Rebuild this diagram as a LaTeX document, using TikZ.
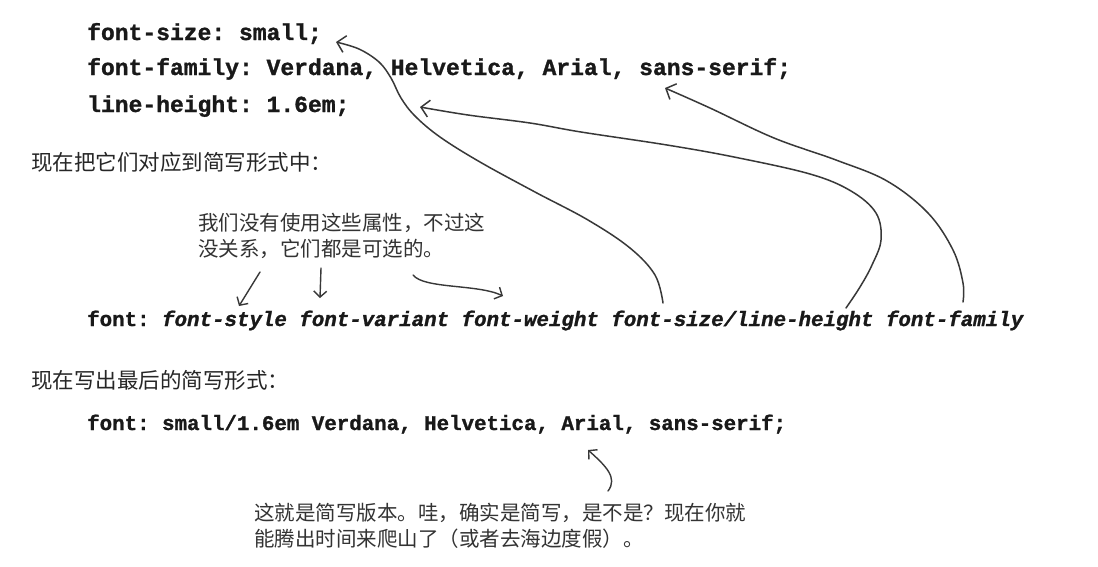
\documentclass[tikz,border=0pt]{standalone}
\usepackage{fontspec}
\setmainfont{Liberation Serif}
\newfontfamily\monof[BoldFeatures={FakeBold=1.2},BoldItalicFeatures={FakeBold=1.2}]{Liberation Mono}
\newfontfamily\cjkf{Noto Sans CJK SC}
\usetikzlibrary{arrows.meta}
\frenchspacing
\begin{document}
\begin{tikzpicture}[x=1pt,y=-1pt,
  code/.style={font=\monof\bfseries\fontsize{23}{27}\selectfont, anchor=base west, inner sep=0pt, text=black!90},
  codeb/.style={font=\monof\bfseries\fontsize{20.8}{25}\selectfont, anchor=base west, inner sep=0pt, text=black!90},
  headtxt/.style={font=\cjkf\fontsize{21.5}{26}\selectfont, anchor=base west, inner sep=0pt, text=black!85},
  handtxt/.style={font=\cjkf\fontsize{20.5}{26}\selectfont, anchor=base west, inner sep=0pt, text=black!80},
  bigarr/.style={draw=black!78, line width=1.5pt, line cap=round, line join=round, -{Straight Barb[length=8pt,width=17pt]}},
  smallarr/.style={draw=black!78, line width=1.4pt, line cap=round, line join=round, -{Straight Barb[length=6pt,width=13pt]}}]
\fill[white] (0,0) rectangle (1098,566);
\useasboundingbox (0,0) rectangle (1098,566);

% top declarations
\node[code] (l1) at (87,40) {font-size: small;};
\node[code] (l2) at (87,75) {font-family: Verdana, Helvetica, Arial, sans-serif;};
\node[code] (l3) at (87,112) {line-height: 1.6em;};

\node[headtxt] (h1) at (31,170) {现在把它们对应到简写形式中：};

\node[handtxt] (n1) at (198,230) {我们没有使用这些属性，不过这};
\node[handtxt] (n2) at (198,256) {没关系，它们都是可选的。};

\node[codeb] (sh) at (87,326) {font: {\itshape font-style font-variant font-weight font-size/line-height font-family}};

\node[headtxt] (h2) at (31,388) {现在写出最后的简写形式：};

\node[codeb] (fin) at (87,430) {font: small/1.6em Verdana, Helvetica, Arial, sans-serif;};

\node[handtxt] (n3) at (254,520) {这就是简写版本。哇，确实是简写，是不是？现在你就};
\node[handtxt] (n4) at (254,546) {能腾出时间来爬山了（或者去海边度假）。};

% big arrows
\coordinate (a1s) at (663,303);
\coordinate (a1e) at (336,42);
\draw[bigarr] plot[smooth, tension=0.6] coordinates {(a1s) (655,275) (630,248) (588,220) (535,192) (480,162) (440,137) (415,116) (401,98) (391,78) (379,62) (359,49) (a1e)};

\coordinate (a2s) at (846,308);
\coordinate (a2e) at (420,107);
\draw[bigarr] plot[smooth, tension=0.6] coordinates {(a2s) (860,287) (872,265) (881,240) (876,213) (851,191) (810,174) (734,157) (667,145) (581,132) (530,123) (468,115) (a2e)};

\coordinate (a3s) at (963,302);
\coordinate (a3e) at (665,88);
\draw[bigarr] plot[smooth, tension=0.6] coordinates {(a3s) (963,283) (953,250) (928,213) (887,181) (836,160) (774,138) (710,108) (a3e)};

% small arrows
\coordinate (s1) at (260,272);
\coordinate (e1) at (239,306);
\draw[smallarr] (s1) -- (e1);

\coordinate (s2) at (321,268);
\coordinate (e2) at (320,298);
\draw[smallarr] (s2) -- (e2);

\coordinate (s3) at (413,275);
\coordinate (e3) at (503,296);
\draw[smallarr] (s3) .. controls (424,289) and (478,284) .. (e3);

\coordinate (s4) at (608,491);
\coordinate (e4) at (588,450);
\draw[smallarr] (s4) .. controls (618,478) and (606,466) .. (e4);
\end{tikzpicture}
\end{document}
